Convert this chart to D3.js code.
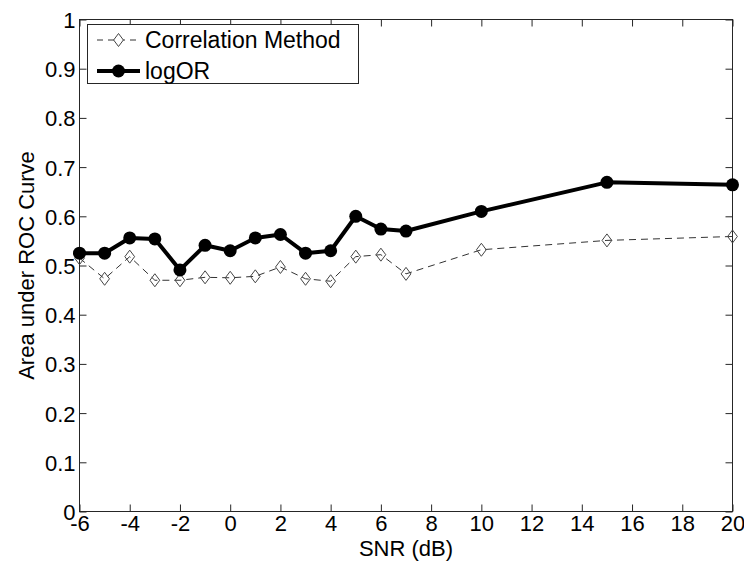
<!DOCTYPE html>
<html>
<head>
<meta charset="utf-8">
<script src="https://cdn.jsdelivr.net/npm/d3@7"></script>
<style>
  html, body { margin: 0; padding: 0; background: #fff; }
  svg { display: block; font-family: "Liberation Sans", Arial, sans-serif; }
</style>
</head>
<body>
<svg id="chart" width="744" height="561"></svg>
<script>
const snr = [-6, -5, -4, -3, -2, -1, 0, 1, 2, 3, 4, 5, 6, 7, 10, 15, 20];
const correlationMethod = [0.515, 0.473, 0.518, 0.470, 0.470, 0.476, 0.475, 0.478, 0.497, 0.473, 0.468, 0.518, 0.522, 0.483, 0.532, 0.551, 0.559];
const logOR = [0.525, 0.525, 0.556, 0.554, 0.491, 0.541, 0.530, 0.556, 0.563, 0.525, 0.530, 0.600, 0.574, 0.570, 0.610, 0.669, 0.664];
const xTicks = [-6, -4, -2, 0, 2, 4, 6, 8, 10, 12, 14, 16, 18, 20];
const yTicks = [0, 0.1, 0.2, 0.3, 0.4, 0.5, 0.6, 0.7, 0.8, 0.9, 1];
const seriesNames = ["Correlation Method", "logOR"];

const svg = d3.select("#chart");
const L = 79.5, R = 732.5, T = 19.5, B = 511.5;
const x = d3.scaleLinear().domain([-6, 20]).range([L, R]);
const y = d3.scaleLinear().domain([0, 1]).range([B, T]);
const axisColor = "#262626";
const fs = 22;

// frame
svg.append("rect").attr("x", L).attr("y", T).attr("width", R - L).attr("height", B - T)
  .attr("fill", "none").attr("stroke", axisColor).attr("stroke-width", 1);

const tickLen = 7;
const fmtY = d => d === 0 ? "0" : d === 1 ? "1" : d3.format(".1f")(d);

const xAxisB = svg.append("g").attr("transform", `translate(0,${B})`)
  .call(d3.axisBottom(x).tickValues(xTicks).tickSize(-tickLen).tickPadding(4).tickFormat(d => d < 0 ? "-" + Math.abs(d) : d));
const xAxisT = svg.append("g").attr("transform", `translate(0,${T})`)
  .call(d3.axisTop(x).tickValues(xTicks).tickSize(-tickLen).tickFormat(""));
const yAxisL = svg.append("g").attr("transform", `translate(${L},0)`)
  .call(d3.axisLeft(y).tickValues(yTicks).tickSize(-tickLen).tickPadding(4).tickFormat(fmtY));
const yAxisR = svg.append("g").attr("transform", `translate(${R},0)`)
  .call(d3.axisRight(y).tickValues(yTicks).tickSize(-tickLen).tickFormat(""));

[xAxisB, xAxisT, yAxisL, yAxisR].forEach(g => {
  g.select(".domain").remove();
  g.selectAll(".tick line").attr("stroke", axisColor);
  g.selectAll(".tick text").attr("fill", "#000").style("font-size", fs + "px")
    .style("font-family", "'Liberation Sans', Arial, sans-serif");
});
xAxisB.selectAll(".tick text").attr("dy", "0.71em");
yAxisL.selectAll(".tick text").attr("dy", "0.36em");

// axis labels
svg.append("text").attr("x", (L + R) / 2).attr("y", 556).attr("text-anchor", "middle")
  .style("font-size", fs + "px").text("SNR (dB)");
svg.append("text").attr("transform", `translate(34,${(T + B) / 2}) rotate(-90)`)
  .attr("text-anchor", "middle").style("font-size", fs + "px").text("Area under ROC Curve");

const corrData = snr.map((s, i) => [s, correlationMethod[i]]);
const logData = snr.map((s, i) => [s, logOR[i]]);
const line = d3.line().x(d => x(d[0])).y(d => y(d[1]));

const diamond = (cx, cy, r) => `M${cx},${cy - r}L${cx + r * 0.75},${cy}L${cx},${cy + r}L${cx - r * 0.75},${cy}Z`;

// correlation series
svg.append("path").datum(corrData).attr("d", line).attr("fill", "none")
  .attr("stroke", "#333").attr("stroke-width", 1).attr("stroke-dasharray", "7,5");
svg.append("g").selectAll("path").data(corrData).join("path")
  .attr("d", d => diamond(x(d[0]), y(d[1]), 6.5))
  .attr("fill", "none").attr("stroke", "#444").attr("stroke-width", 1);

// logOR series
svg.append("path").datum(logData).attr("d", line).attr("fill", "none")
  .attr("stroke", "#000").attr("stroke-width", 4).attr("stroke-linejoin", "round");
svg.append("g").selectAll("circle").data(logData).join("circle")
  .attr("cx", d => x(d[0])).attr("cy", d => y(d[1])).attr("r", 6.5).attr("fill", "#000");

// legend
const lg = svg.append("g");
lg.append("rect").attr("x", 87.5).attr("y", 24.5).attr("width", 271).attr("height", 59)
  .attr("fill", "#fff").attr("stroke", axisColor).attr("stroke-width", 1);
const rows = [40, 71];
lg.append("line").attr("x1", 97).attr("x2", 140).attr("y1", rows[0]).attr("y2", rows[0])
  .attr("stroke", "#333").attr("stroke-width", 1).attr("stroke-dasharray", "6,5");
lg.append("path").attr("d", diamond(118.5, rows[0], 6.5)).attr("fill", "#fff").attr("stroke", "#444");
lg.append("text").attr("x", 145).attr("y", rows[0]).attr("dy", "0.36em").style("font-size", "23px").text(seriesNames[0]);
lg.append("line").attr("x1", 97).attr("x2", 140).attr("y1", rows[1]).attr("y2", rows[1])
  .attr("stroke", "#000").attr("stroke-width", 4);
lg.append("circle").attr("cx", 118.5).attr("cy", rows[1]).attr("r", 6.5).attr("fill", "#000");
lg.append("text").attr("x", 145).attr("y", rows[1]).attr("dy", "0.36em").style("font-size", "23px").text(seriesNames[1]);
</script>
</body>
</html>
